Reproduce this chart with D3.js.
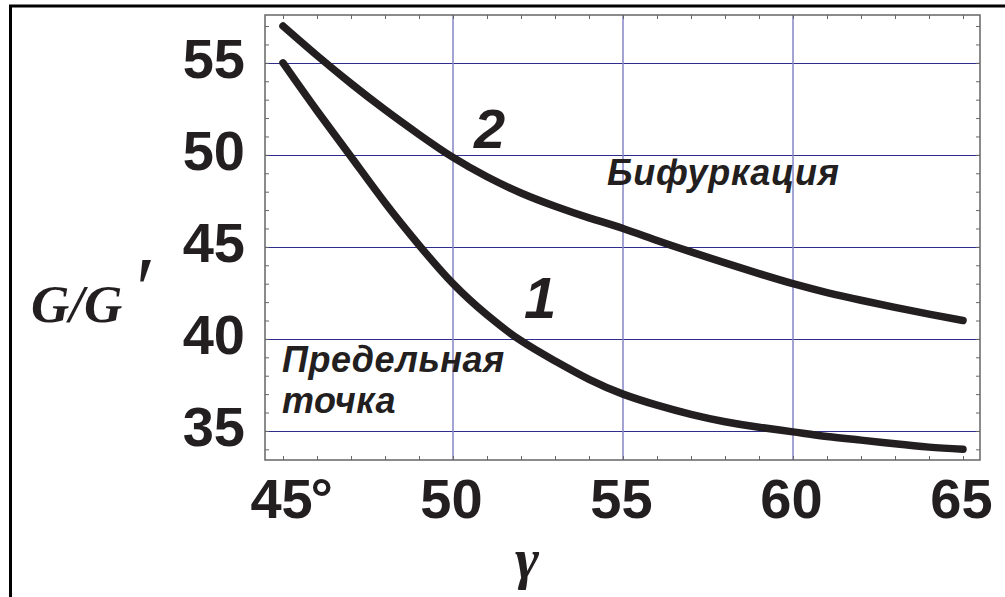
<!DOCTYPE html>
<html>
<head>
<meta charset="utf-8">
<script src="https://cdn.jsdelivr.net/npm/d3@7"></script>
<style>
  body { margin: 0; background: #fff; }
  svg { display: block; }
</style>
</head>
<body>
<div id="chart"></div>
<script>
// angle gamma (deg) and G/G' for the two curves
const gamma = [45, 46, 47, 48, 49, 50, 51, 52, 53, 54, 55, 56, 57, 58, 59, 60, 61, 62, 63, 64, 65]
const curve1 = [55.0, 52.4, 49.9, 47.4, 45.1, 43.0, 41.3, 39.9, 38.8, 37.8, 37.0, 36.4, 35.9, 35.5, 35.2, 34.95, 34.7, 34.5, 34.3, 34.12, 34.0]
const curve2 = [57.0, 55.4, 53.88, 52.45, 51.11, 49.86, 48.81, 47.93, 47.21, 46.58, 46.0, 45.35, 44.73, 44.13, 43.55, 43.0, 42.52, 42.1, 41.71, 41.35, 41.0]

const xMajor = [45, 50, 55, 60, 65]
const yMajor = [35, 40, 45, 50, 55]
const xGrid = [50, 55, 60]
const yGrid = [35, 40, 45, 50, 55]
const xMinor = d3.range(45, 66)
const yMinor = d3.range(34, 58)

const width = 1005, height = 597
const plot = {left: 265, right: 980, top: 15, bottom: 460}

const x = d3.scaleLinear().domain([44.47, 65.5]).range([plot.left, plot.right])
const y = d3.scaleLinear().domain([33.42, 57.6]).range([plot.bottom, plot.top])

const svg = d3.select("#chart").append("svg")
    .attr("width", width)
    .attr("height", height)

// outer frame (only left and top edges show)
svg.append("path")
    .attr("d", `M10.5,${height + 5}V6H${width + 5}`)
    .attr("fill", "none")
    .attr("stroke", "#000")
    .attr("stroke-width", 3)

// grid
svg.append("g")
  .selectAll("line")
  .data(yGrid)
  .join("line")
    .attr("x1", plot.left).attr("x2", plot.right)
    .attr("y1", d => Math.round(y(d)) + 0.5).attr("y2", d => Math.round(y(d)) + 0.5)
    .attr("stroke", "#2e2e8a")
    .attr("stroke-width", 1)

svg.append("g")
  .selectAll("line")
  .data(xGrid)
  .join("line")
    .attr("x1", d => x(d)).attr("x2", d => x(d))
    .attr("y1", plot.top).attr("y2", plot.bottom)
    .attr("stroke", "#8585c6")
    .attr("stroke-width", 1.5)

// frame + inward ticks
const tickColor = "#666"
function ticks(g) {
  g.select(".domain").remove()
  g.selectAll(".tick line").attr("stroke", tickColor).attr("stroke-width", 1)
}
svg.append("g").attr("transform", `translate(0,${plot.bottom})`)
    .call(d3.axisBottom(x).tickValues(xMinor).tickSize(-4).tickFormat("")).call(ticks)
svg.append("g").attr("transform", `translate(0,${plot.top})`)
    .call(d3.axisTop(x).tickValues(xMinor).tickSize(-4).tickFormat("")).call(ticks)
svg.append("g").attr("transform", `translate(${plot.left},0)`)
    .call(d3.axisLeft(y).tickValues(yMinor).tickSize(-4).tickFormat("")).call(ticks)
svg.append("g").attr("transform", `translate(${plot.right},0)`)
    .call(d3.axisRight(y).tickValues(yMinor).tickSize(-4).tickFormat("")).call(ticks)

svg.append("rect")
    .attr("x", plot.left).attr("y", plot.top)
    .attr("width", plot.right - plot.left).attr("height", plot.bottom - plot.top)
    .attr("fill", "none")
    .attr("stroke", tickColor)
    .attr("stroke-width", 1.5)

// tick labels
const labelFont = "'Liberation Sans', Arial, sans-serif"

const xLabels = svg.append("g")
    .attr("transform", `translate(0,${plot.bottom})`)
    .call(d3.axisBottom(x).tickValues(xMajor).tickSize(0).tickPadding(18))
xLabels.select(".domain").remove()
xLabels.selectAll("text")
    .attr("x", -2)
    .attr("fill", "#231f20")
    .attr("font-family", labelFont)
    .attr("font-weight", "bold")
    .attr("font-size", 56)
xLabels.selectAll(".tick").filter(d => d === 45)
  .append("text")
    .text("°")
    .attr("x", 27)
    .attr("y", 18)
    .attr("dy", "0.71em")
    .attr("text-anchor", "start")
    .attr("fill", "#231f20")
    .attr("font-family", labelFont)
    .attr("font-weight", "bold")
    .attr("font-size", 56)

const yLabels = svg.append("g")
    .attr("transform", `translate(${plot.left},0)`)
    .call(d3.axisLeft(y).tickValues(yMajor).tickSize(0).tickPadding(20))
yLabels.select(".domain").remove()
yLabels.selectAll("text")
    .attr("dy", 15)
    .attr("fill", "#231f20")
    .attr("font-family", labelFont)
    .attr("font-weight", "bold")
    .attr("font-size", 56)

// curves
const line = d3.line()
    .x((d, i) => x(gamma[i]))
    .y(d => y(d))
    .curve(d3.curveNatural)

svg.append("g")
    .attr("fill", "none")
    .attr("stroke", "#231f20")
    .attr("stroke-width", 7.5)
    .attr("stroke-linecap", "round")
    .attr("stroke-linejoin", "round")
  .selectAll("path")
  .data([curve1, curve2])
  .join("path")
    .attr("d", line)

// annotations
function note(text, px, py, size, spacing = 0) {
  svg.append("text")
      .text(text)
      .attr("x", px)
      .attr("y", py)
      .attr("fill", "#231f20")
      .attr("font-family", labelFont)
      .attr("font-weight", "bold")
      .attr("font-style", "italic")
      .attr("font-size", size)
      .attr("letter-spacing", spacing)
}
note("2", 474, 148, 56)
note("1", 524, 318, 58)
note("Бифуркация", 607, 185, 36, 0.7)
note("Предельная", 282, 372, 36, 0.5)
note("точка", 282, 413, 36, 0.5)

// axis titles
const serif = "'Liberation Serif', 'Times New Roman', serif"
const yTitle = svg.append("text")
    .attr("x", 31)
    .attr("y", 322)
    .attr("fill", "#231f20")
    .attr("font-family", serif)
    .attr("font-weight", "bold")
    .attr("font-style", "italic")
    .attr("font-size", 53)
yTitle.append("tspan").text("G/G")
yTitle.append("tspan").text("′")
    .attr("dx", 8).attr("dy", -2)
    .attr("font-weight", "normal")
    .attr("font-size", 90)

svg.append("text")
    .text("γ")
    .attr("x", 527)
    .attr("y", 578)
    .attr("text-anchor", "middle")
    .attr("fill", "#231f20")
    .attr("font-family", serif)
    .attr("font-weight", "bold")
    .attr("font-style", "italic")
    .attr("font-size", 58)
</script>
</body>
</html>
